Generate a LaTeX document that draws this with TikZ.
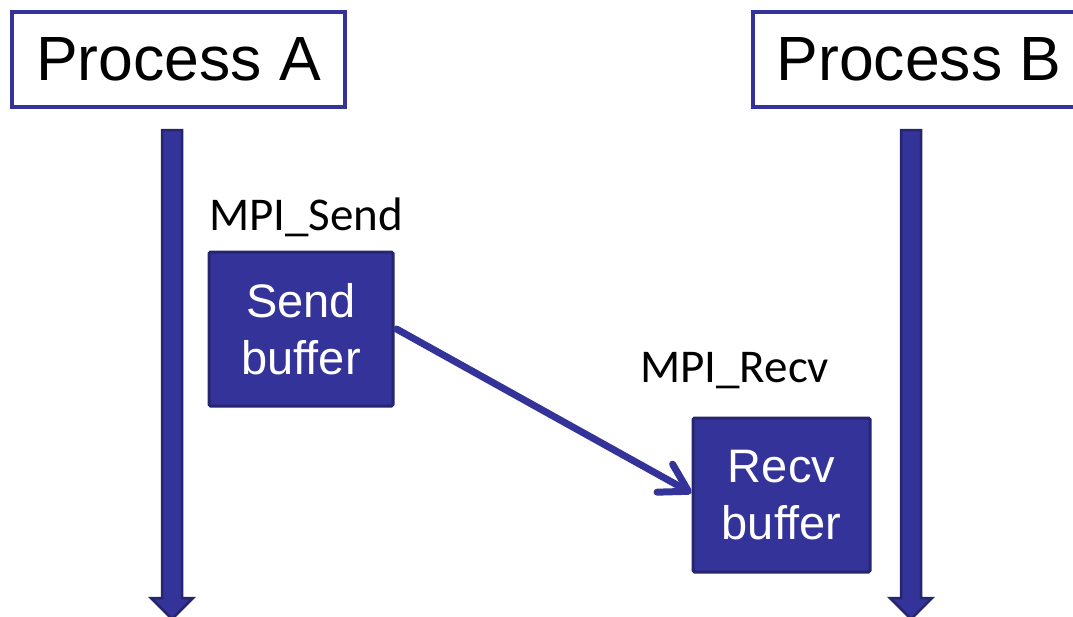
\documentclass[tikz,border=0pt]{standalone}
\usepackage{fontspec}
\setmainfont{Liberation Sans}
\newfontfamily\calibrifont{Carlito}
\usetikzlibrary{arrows.meta,calc}
\definecolor{pblue}{RGB}{51,51,153}
\definecolor{pdark}{RGB}{38,38,112}
\tikzset{
  procbox/.style={draw=pblue, fill=white, line width=4pt, rectangle, inner sep=0pt,
    minimum height=95pt, font=\fontsize{62.5}{75}\selectfont},
  bufbox/.style={draw=pdark, fill=pblue, line width=3pt, rounded corners=1.5pt, rectangle, inner sep=0pt,
    minimum height=154pt, text=white, align=center, font=\fontsize{47}{56.5}\selectfont},
  calllabel/.style={anchor=base west, inner sep=0pt, font=\calibrifont\fontsize{47}{56}\selectfont},
  msg/.style={draw=pblue, line width=7pt, line cap=round, -{Straight Barb[length=27pt,width=32pt,line cap=round,line join=round]}},
  lifeline/.pic={\filldraw[fill=pblue, draw=pdark, line width=2.5pt, line join=miter]
    (-10,0) -- (10,0) -- (10,468) -- (21,468) -- (0,489) -- (-21,468) -- (-10,468) -- cycle;}
}
\begin{document}
\begin{tikzpicture}[x=1pt, y=-1pt]
\useasboundingbox (0,0) rectangle (1073,616);
\clip (0,0) rectangle (1073,616);
% process headers
\node[procbox, minimum width=333pt] (pa) at (178.5,59.5) {Process A};
\node[procbox, minimum width=332pt] (pb) at (919,59.5) {Process B};
% lifelines
\pic (la) at (172,130) {lifeline};
\pic (lb) at (911,130) {lifeline};
% call labels
\node[calllabel] (sendlbl) at (209,230) {MPI\_Send};
\node[calllabel] (recvlbl) at (640,382) {MPI\_Recv};
% buffers
\node[bufbox, minimum width=184pt] (send) at (301,329) {Send\\buffer};
\node[bufbox, minimum width=177pt] (recv) at (781.5,495) {Recv\\buffer};
% message
\draw[msg] ([xshift=2pt]send.east) -- ([yshift=2pt]recv.west);
\end{tikzpicture}
\end{document}
